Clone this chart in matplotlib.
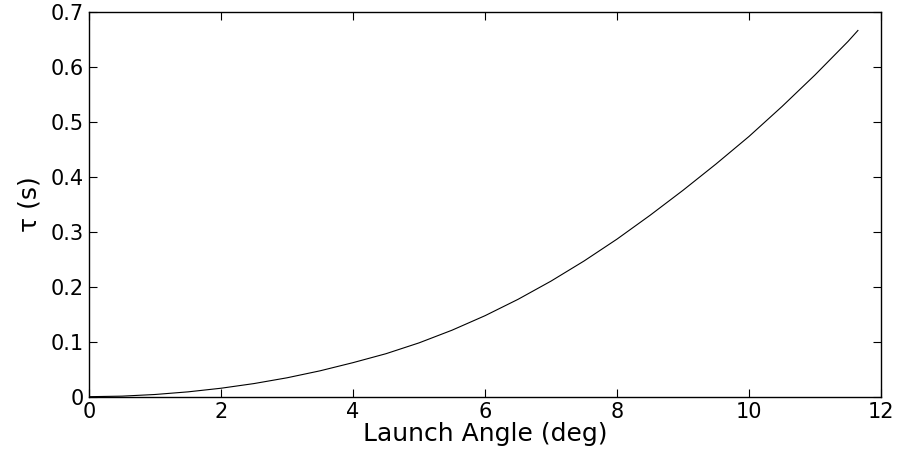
import numpy as np
import matplotlib.pyplot as plt

# values
angle_deg = [0, 0.5, 1, 1.5, 2, 2.5, 3, 3.5, 4, 4.5, 5, 5.5, 6, 6.5, 7, 7.5,
             8, 8.5, 9, 9.5, 10, 10.5, 11, 11.5, 11.65]
tau_s = [0, 0.001, 0.004, 0.0088, 0.0154, 0.0239, 0.0344, 0.0471, 0.062,
         0.0783, 0.098, 0.1211, 0.1475, 0.1773, 0.2105, 0.2471, 0.287,
         0.3303, 0.3759, 0.4238, 0.474, 0.5285, 0.586, 0.647, 0.667]

x_ticks = [0, 2, 4, 6, 8, 10, 12]
y_ticks = [0, 0.1, 0.2, 0.3, 0.4, 0.5, 0.6, 0.7]

plt.rcParams['font.family'] = ['DejaVu Sans']

fig = plt.figure(figsize=(8.99, 4.49), dpi=100)
ax = fig.add_axes([0.099, 0.1165, 0.881, 0.856])
ax.plot(angle_deg, tau_s, color='black', linewidth=0.8)

ax.set_xlim(0, 12)
ax.set_ylim(0, 0.7)
ax.set_xticks(x_ticks)
ax.set_yticks(y_ticks)
ax.set_xticklabels([str(t) for t in x_ticks])
ax.set_yticklabels(['0'] + ['%.1f' % t for t in y_ticks[1:]])
ax.tick_params(direction='in', length=5.5, width=0.8, top=True, right=True,
               labelsize=15, pad=4)
for s in ax.spines.values():
    s.set_linewidth(1.0)

ax.set_xlabel('Launch Angle (deg)', fontsize=18, labelpad=0)
ax.set_ylabel('τ (s)', fontsize=18, labelpad=6)

fig.savefig('out.png', dpi=100)
